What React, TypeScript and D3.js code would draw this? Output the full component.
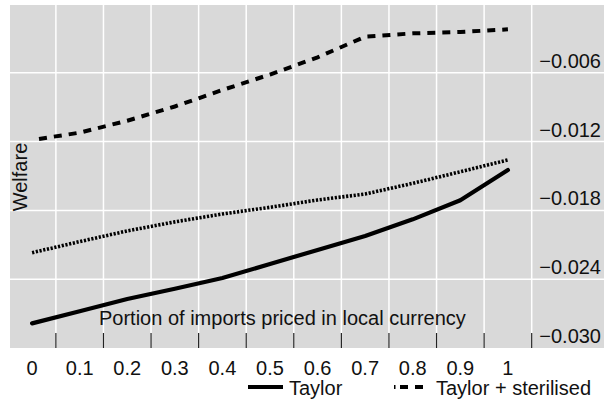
import * as d3 from "d3";
import React from "react";

// Portion of imports priced in local currency
const categories = ["0", "0.1", "0.2", "0.3", "0.4", "0.5", "0.6", "0.7", "0.8", "0.9", "1"];

// Welfare by policy rule
const taylor = [-0.02785, -0.0268, -0.02573, -0.02483, -0.0239, -0.02267, -0.02145, -0.02024, -0.01878, -0.01712, -0.01448];
const taylorSterilised = [-0.01186, -0.01122, -0.01018, -0.00894, -0.0075, -0.00615, -0.00465, -0.00285, -0.00256, -0.00244, -0.00221];
const taylorOther = [-0.02169, -0.02072, -0.01979, -0.019, -0.01831, -0.01773, -0.01709, -0.01657, -0.01564, -0.01463, -0.0136];

const yTicks = [-0.03, -0.024, -0.018, -0.012, -0.006];
const yTickLabels = ["\u22120.030", "\u22120.024", "\u22120.018", "\u22120.012", "\u22120.006"];

const W = 604;
const H = 410;
const FONT = "'Liberation Sans', Arial, sans-serif";

const App: React.FC = () => {
  const panel = { left: 10, right: 604, top: 5, bottom: 348 };

  const x = d3
    .scaleBand<string>()
    .domain(categories)
    .range([8.3, 531.7])
    .padding(0);
  const cx = (c: string) => x(c)! + x.bandwidth() / 2;

  const y = d3.scaleLinear().domain([-0.03, 0]).range([348, 4]);

  const line = d3
    .line<number>()
    .x((_, i) => cx(categories[i]))
    .y((d) => y(d));

  // band boundaries (gridlines & tick marks)
  const bounds = categories.slice(1).map((c) => x(c)!).concat([x.range()[1]]);

  return (
    <div style={{ position: "fixed", left: 0, top: 0 }}>
      <svg width={W} height={H} style={{ display: "block", fontFamily: FONT }}>
        <rect x={0} y={0} width={W} height={H} fill="#ffffff" />
        <rect
          x={panel.left}
          y={panel.top}
          width={panel.right - panel.left}
          height={panel.bottom - panel.top}
          fill="#d9d9d9"
        />

        {/* Gridlines */}
        {bounds.map((b, i) => (
          <line key={"v" + i} x1={b} x2={b} y1={panel.top} y2={panel.bottom} stroke="#ffffff" strokeWidth={1.5} />
        ))}
        {yTicks.slice(1).map((t, i) => (
          <line key={"h" + i} x1={panel.left} x2={panel.right} y1={y(t)} y2={y(t)} stroke="#ffffff" strokeWidth={1.5} />
        ))}

        {/* Tick marks */}
        {bounds.map((b, i) => (
          <line key={"t" + i} x1={b} x2={b} y1={333} y2={panel.bottom} stroke="#222" strokeWidth={1.2} />
        ))}

        {/* Y tick labels */}
        {yTicks.map((t, i) => (
          <text key={"yl" + i} x={601} y={y(t) - 5} textAnchor="end" fontSize={20} fill="#111">
            {yTickLabels[i]}
          </text>
        ))}

        {/* X tick labels */}
        {categories.map((c) => (
          <text key={"xl" + c} x={cx(c)} y={375} textAnchor="middle" fontSize={20} fill="#111">
            {c}
          </text>
        ))}

        {/* Axis titles */}
        <text x={99} y={325} fontSize={20} fill="#111">
          Portion of imports priced in local currency
        </text>
        <text
          transform="translate(27,177) rotate(-90)"
          textAnchor="middle"
          fontSize={20}
          fill="#111"
        >
          Welfare
        </text>

        {/* Lines */}
        <path d={line(taylorOther)!} fill="none" stroke="#000" strokeWidth={3.6} strokeDasharray="2.2,1.6" />
        <path d={line(taylorSterilised)!} fill="none" stroke="#000" strokeWidth={4} strokeDasharray="8,7" strokeDashoffset={8} />
        <path d={line(taylor)!} fill="none" stroke="#000" strokeWidth={4.2} strokeLinecap="round" strokeLinejoin="round" />

        {/* Legend */}
        <line x1={248} x2={283} y1={387} y2={387} stroke="#000" strokeWidth={4} />
        <text x={289} y={395} fontSize={20} fill="#111">Taylor</text>
        <line x1={394} x2={395.5} y1={387} y2={387} stroke="#000" strokeWidth={4} />
        <line x1={400} x2={423} y1={387} y2={387} stroke="#000" strokeWidth={4} strokeDasharray="8,7" />
        <text x={436} y={395} fontSize={20} fill="#111">Taylor + sterilised</text>
      </svg>
    </div>
  );
};

export default App;
